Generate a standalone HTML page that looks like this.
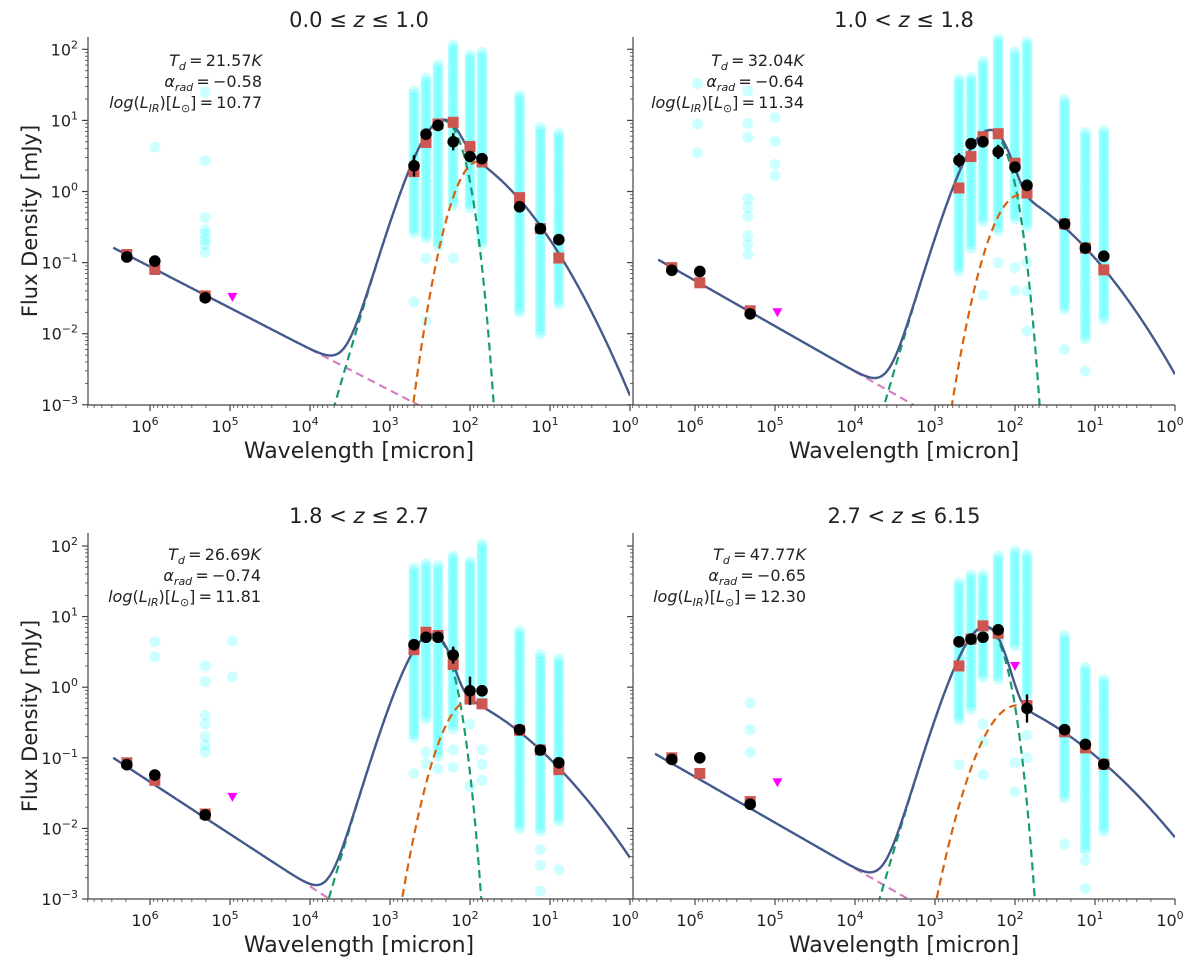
<!DOCTYPE html>
<html><head><meta charset="utf-8">
<style>
html,body{margin:0;padding:0;background:#fff;}
svg{display:block;font-family:"DejaVu Sans","Liberation Sans",sans-serif;}
</style></head>
<body>
<svg id="fig" width="1200" height="966" viewBox="0 0 1200 966" xmlns="http://www.w3.org/2000/svg"></svg>
<script>
// ---- shared wavelengths (log10 micron) ----
const radioLam = [6.29, 5.94, 5.31];
const ulLam = 4.97;
const firLam = [2.70, 2.55, 2.40, 2.21, 2.00, 1.85, 1.38, 1.12, 0.89];

// ---- panel 1: 0.0<=z<=1.0 ----
const p1RadioBlack = [0.12, 0.105, 0.032];
const p1RadioRed = [0.13, 0.08, 0.034];
const p1UL = [[4.97, 0.033]];
const p1Black = [2.3, 6.4, 8.5, 5.0, 3.1, 2.9, 0.61, 0.30, 0.21];
const p1BlackErr = [0.15, 0.08, 0.04, 0.12, 0.06, 0.04, 0.06, 0.03, 0.06];
const p1Red = [1.9, 4.9, 8.9, 9.4, 4.3, 2.6, 0.82, 0.30, 0.116];
const p1CloudLo = [0.26, 0.22, 0.17, 0.65, 0.59, 0.18, 0.020, 0.010, 0.026];
const p1CloudHi = [28, 42, 63, 120, 93, 93, 23, 8.7, 6.9];
const p1Outliers = [[2.70, 0.028], [2.55, 0.115], [2.55, 0.015], [2.21, 0.115], [5.94, 4.2], [5.31, 25], [5.31, 2.7], [5.31, 0.43], [5.31, 0.29], [5.31, 0.25], [5.31, 0.21], [5.31, 0.18], [5.31, 0.14]];
const p1Model = [6.46, 0.162, -0.58, 2.34, 10.0, 1.90, 2.63, 5.2, 0.758, 0.515];

// ---- panel 2: 1.0<z<=1.8 ----
const p2RadioBlack = [0.078, 0.075, 0.019];
const p2RadioRed = [0.085, 0.052, 0.021];
const p2UL = [[4.97, 0.020]];
const p2Black = [2.75, 4.7, 5.0, 3.6, 2.2, 1.22, 0.35, 0.16, 0.123];
const p2BlackErr = [0.1, 0.04, 0.04, 0.1, 0.04, 0.08, 0.03, 0.03, 0.03];
const p2Red = [1.12, 3.1, 5.9, 6.5, 2.5, 0.95, 0.35, 0.16, 0.079];
const p2CloudLo = [0.076, 0.16, 0.38, 0.28, 0.41, 0.32, 0.022, 0.0085, 0.016];
const p2CloudHi = [39, 42, 68, 141, 98, 141, 20, 7.2, 7.2];
const p2Outliers = [[2.40, 0.035], [2.21, 0.1], [2.0, 0.085], [2.0, 0.04], [1.85, 0.1], [1.85, 0.04], [1.85, 0.011], [1.38, 0.006], [1.12, 0.003], [5.97, 33], [5.97, 8.9], [5.97, 3.5], [5.34, 26], [5.34, 9.1], [5.34, 5.8], [5.34, 0.8], [5.34, 0.6], [5.34, 0.45], [5.34, 0.24], [5.34, 0.18], [5.34, 0.13], [5.0, 11], [5.0, 5.1], [5.0, 2.4], [5.0, 1.66]];
const p2Model = [6.46, 0.11, -0.64, 2.32, 7.1, 1.94, 0.89, 4.1, 0.613, 0.354];

// ---- panel 3: 1.8<z<=2.7 ----
const p3RadioBlack = [0.08, 0.057, 0.0155];
const p3RadioRed = [0.085, 0.048, 0.016];
const p3UL = [[4.97, 0.028]];
const p3Black = [4.0, 5.1, 5.1, 2.85, 0.89, 0.89, 0.25, 0.129, 0.085];
const p3BlackErr = [0.04, 0.04, 0.04, 0.12, 0.2, 0.08, 0.03, 0.03, 0.04];
const p3Red = [3.4, 6.0, 5.4, 2.1, 0.68, 0.58, 0.245, 0.129, 0.068];
const p3CloudLo = [0.195, 0.355, 0.105, 0.257, 0.76, 0.76, 0.010, 0.0091, 0.0126];
const p3CloudHi = [54, 63, 54, 78, 63, 115, 6.9, 3.1, 2.75];
const p3Outliers = [[2.70, 0.06], [2.55, 0.12], [2.55, 0.083], [2.40, 0.07], [2.21, 0.13], [2.21, 0.074], [2.0, 0.3], [2.0, 0.039], [1.85, 0.13], [1.85, 0.08], [1.85, 0.048], [1.12, 0.0013], [1.12, 0.003], [1.12, 0.005], [0.89, 0.0026], [5.94, 4.4], [5.94, 2.7], [5.31, 2.0], [5.31, 1.2], [5.31, 0.4], [5.31, 0.3], [5.31, 0.2], [5.31, 0.15], [5.31, 0.12], [4.97, 4.5], [4.97, 1.4]];
const p3Model = [6.46, 0.10, -0.74, 2.48, 5.6, 2.00, 0.65, 3.9, 0.545, 0.285];

// ---- panel 4: 2.7<z<=6.15 ----
const p4RadioBlack = [0.095, 0.10, 0.022];
const p4RadioRed = [0.10, 0.06, 0.024];
const p4UL = [[4.97, 0.045], [2.00, 2.0]];
const p4Black = [4.4, 4.8, 5.1, 6.5, null, 0.50, 0.25, 0.155, 0.081];
const p4BlackErr = [0.06, 0.06, 0.04, 0.05, 0, 0.2, 0.04, 0.04, 0.03];
const p4Red = [2.0, 4.8, 7.4, 5.8, null, 0.55, 0.234, 0.138, 0.081];
const p4CloudLo = [0.34, 0.49, 1.38, 1.29, 3.8, 0.76, 0.027, 0.0048, 0.0091];
const p4CloudHi = [33, 39, 39, 74, 87, 83, 5.5, 2.1, 1.29];
const p4Outliers = [[2.70, 0.08], [2.40, 0.3], [2.40, 0.17], [2.40, 0.058], [2.0, 0.085], [2.0, 0.033], [1.85, 0.21], [1.85, 0.1], [1.38, 0.006], [1.12, 0.0035], [1.12, 0.0014], [5.31, 0.6], [5.31, 0.25], [5.31, 0.12]];
const p4Model = [6.50, 0.114, -0.65, 2.38, 7.1, 1.98, 0.55, 2.74, 0.508, 0.22];

const titles = ["0.0 \u2264 ", "1.0 < ", "1.8 < ", "2.7 < "];
const titlesEnd = [" \u2264 1.0", " \u2264 1.8", " \u2264 2.7", " \u2264 6.15"];
const tdVals = ["21.57", "32.04", "26.69", "47.77"];
const alphaVals = ["0.58", "0.64", "0.74", "0.65"];
const lirVals = ["10.77", "11.34", "11.81", "12.30"];
const yTickExps = [2, 1, 0, -1, -2, -3];
const xTickExps = [6, 5, 4, 3, 2, 1, 0];

const NS = "http://www.w3.org/2000/svg";
const svg = document.getElementById("fig");
function mk(tag, attrs, parent) {
  const e = document.createElementNS(NS, tag);
  for (const k in attrs) e.setAttribute(k, attrs[k]);
  (parent || svg).appendChild(e);
  return e;
}

const panels = [
  {rb: p1RadioBlack, rr: p1RadioRed, ul: p1UL, bl: p1Black, be: p1BlackErr, rd: p1Red, lo: p1CloudLo, hi: p1CloudHi, out: p1Outliers, m: p1Model, xR: 630, y2: 49.3, dec: 71.1, yBot: 405, yTop: 37, ylab: true, txX: 262, txY: 60},
  {rb: p2RadioBlack, rr: p2RadioRed, ul: p2UL, bl: p2Black, be: p2BlackErr, rd: p2Red, lo: p2CloudLo, hi: p2CloudHi, out: p2Outliers, m: p2Model, xR: 1175, y2: 49.3, dec: 71.1, yBot: 405, yTop: 37, ylab: false, txX: 804, txY: 60},
  {rb: p3RadioBlack, rr: p3RadioRed, ul: p3UL, bl: p3Black, be: p3BlackErr, rd: p3Red, lo: p3CloudLo, hi: p3CloudHi, out: p3Outliers, m: p3Model, xR: 630, y2: 546, dec: 70.6, yBot: 899, yTop: 533, ylab: true, txX: 261, txY: 554},
  {rb: p4RadioBlack, rr: p4RadioRed, ul: p4UL, bl: p4Black, be: p4BlackErr, rd: p4Red, lo: p4CloudLo, hi: p4CloudHi, out: p4Outliers, m: p4Model, xR: 1175, y2: 546, dec: 70.6, yBot: 899, yTop: 533, ylab: false, txX: 806, txY: 554}
];

const XPK = 4.965; // greybody beta=2 peak
function lnf(x) { return 5 * Math.log(x) - Math.log(Math.expm1(x)); }

panels.forEach((P, pi) => {
  const xL = P.xR - 542;
  const X = l => P.xR - 80 * l;
  const Y = v => P.y2 + (2 - Math.log10(v)) * P.dec;
  const YL = lg => P.y2 + (2 - lg) * P.dec;
  const g = mk("g", {});
  
  
  const cid = "clip" + pi;
  const cp = mk("clipPath", {id: cid}, g);
  mk("rect", {x: xL, y: P.yTop - 8, width: 542, height: P.yBot - P.yTop + 8}, cp);
  const plot = mk("g", {"clip-path": "url(#" + cid + ")"}, g);
  
  

  // cyan clouds
  const cloud = mk("g", {fill: "#00ffff", "fill-opacity": 0.2}, plot);
  
  
  firLam.forEach((l, i) => {
    const a = Math.log10(P.lo[i]), b = Math.log10(P.hi[i]);
    for (let v = a; v <= b + 1e-9; v += 0.05) {
      const c = mk("circle", {cx: X(l), cy: YL(v), r: 5.5}, cloud);
      
      
    }
  });
  P.out.forEach(o => {
    const c = mk("circle", {cx: X(o[0]), cy: Y(o[1]), r: 5.5}, cloud);
    
    
  });

  // model
  const [l0, s0, alpha, gl, gS, wl, wS, aL, bb, cc] = P.m;
  const R = l => Math.log10(s0) - alpha * (l - l0);
  const G = l => { const x = XPK * Math.pow(10, gl - l); return Math.log10(gS) + (lnf(x) - lnf(XPK)) / Math.LN10; };
  const W = l => { if (l >= wl) return Math.log10(wS) - aL * (l - wl) * (l - wl); const d = wl - l; return Math.log10(wS) - bb * d - cc * d * d; };
  const T = l => Math.log10(Math.pow(10, R(l)) + Math.pow(10, G(l)) + Math.pow(10, W(l)));
  function pathOf(fn, a, b) {
    let d = "";
    for (let l = a; l >= b - 1e-9; l -= 0.01) {
      let v = fn(l); if (v < -3.6) v = -3.6;
      d += (d ? "L" : "M") + X(l).toFixed(1) + "," + YL(v).toFixed(1);
    }
    return d;
  }
  const pink = mk("path", {d: pathOf(R, 4.0, 2.0), fill: "none", stroke: "#d57fbf", "stroke-width": 2.2, "stroke-dasharray": "8,5"}, plot);
  
  
  const green = mk("path", {d: pathOf(G, 4.5, 1.2), fill: "none", stroke: "#179c72", "stroke-width": 2.2, "stroke-dasharray": "8,5"}, plot);
  
  
  const orange = mk("path", {d: pathOf(W, 4.0, wl), fill: "none", stroke: "#d8630e", "stroke-width": 2.2, "stroke-dasharray": "8,5"}, plot);
  
  
  const blue = mk("path", {d: pathOf(T, l0, 0), fill: "none", stroke: "#455a8c", "stroke-width": 2.4}, plot);
  
  

  // red model points
  const reds = mk("g", {fill: "#cd5750"}, g);
  
  
  const addSq = (l, v) => {
    if (v == null) return;
    const r = mk("rect", {x: X(l) - 5.5, y: Y(v) - 5.5, width: 11, height: 11}, reds);
    
    
  };
  radioLam.forEach((l, i) => addSq(l, P.rr[i]));
  firLam.forEach((l, i) => addSq(l, P.rd[i]));

  // black stacked points
  const blks = mk("g", {fill: "#000"}, g);
  
  
  const addPt = (l, v, e) => {
    if (v == null) return;
    if (e > 0) {
      const ln = mk("line", {x1: X(l), x2: X(l), y1: YL(Math.log10(v) + e), y2: YL(Math.log10(v) - e), stroke: "#000", "stroke-width": 2.4}, blks);
      
      
    }
    const c = mk("circle", {cx: X(l), cy: Y(v), r: 5.8}, blks);
    
    
  };
  radioLam.forEach((l, i) => addPt(l, P.rb[i], pi === 3 && i === 1 ? 0.06 : 0));
  firLam.forEach((l, i) => addPt(l, P.bl[i], P.be[i]));

  // upper limits
  P.ul.forEach(u => {
    const x = X(u[0]), y = Y(u[1]);
    const t = mk("polygon", {points: (x - 5) + "," + (y - 4) + " " + (x + 5) + "," + (y - 4) + " " + x + "," + (y + 5), fill: "#ff00ff"}, g);
    
    
  });

  // axes
  const ax = mk("g", {stroke: "#444", "stroke-width": 1.2, fill: "none"}, g);
  
  
  mk("line", {x1: xL, x2: xL, y1: P.yTop, y2: P.yBot}, ax);
  mk("line", {x1: xL, x2: P.xR, y1: P.yBot, y2: P.yBot}, ax);
  for (let d = -3; d <= 2; d++) {
    mk("line", {x1: xL - 6, x2: xL, y1: YL(d), y2: YL(d)}, ax);
    for (let k = 2; k <= 9; k++) {
      const lg = d + Math.log10(k);
      if (lg > 2.17) break;
      mk("line", {x1: xL - 3, x2: xL, y1: YL(lg), y2: YL(lg), "stroke-width": 0.8}, ax);
    }
  }
  for (let d = 0; d <= 6; d++) {
    mk("line", {x1: X(d), x2: X(d), y1: P.yBot, y2: P.yBot + 6}, ax);
    for (let k = 2; k <= 9; k++) {
      const l = d + Math.log10(k);
      if (l > 6.78) break;
      mk("line", {x1: X(l), x2: X(l), y1: P.yBot, y2: P.yBot + 3, "stroke-width": 0.8}, ax);
    }
  }
  // tick labels
  const lab = mk("g", {fill: "#222", "font-size": 16}, g);
  
  
  xTickExps.forEach(e => {
    const t = mk("text", {x: X(e) - 5, y: P.yBot + 27, "text-anchor": "middle"}, lab);
    
    
    t.appendChild(document.createTextNode("10"));
    const s = mk("tspan", {"font-size": 11, dy: -7}, t);
    s.textContent = String(e);
  });
  if (P.ylab) {
    yTickExps.forEach(e => {
      const t = mk("text", {x: xL - 10, y: YL(e) + 6, "text-anchor": "end"}, lab);
      
      
      t.appendChild(document.createTextNode("10"));
      const s = mk("tspan", {"font-size": 11, dy: -7}, t);
      s.textContent = e < 0 ? "\u2212" + (-e) : String(e);
    });
    const yl = mk("text", {x: 0, y: 0, "font-size": 21, fill: "#222", "text-anchor": "middle", transform: "translate(37," + ((P.yTop + P.yBot) / 2) + ") rotate(-90)"}, g);
    
    
    yl.textContent = "Flux Density [mJy]";
  }
  const xl = mk("text", {x: xL + 271, y: P.yBot + 53, "font-size": 22, fill: "#222", "text-anchor": "middle"}, g);
  
  
  xl.textContent = "Wavelength [micron]";

  // title
  const tt = mk("text", {x: xL + 271, y: P.yTop - 10, "font-size": 21, fill: "#222", "text-anchor": "middle"}, g);
  
  
  tt.appendChild(document.createTextNode(titles[pi]));
  const zi = mk("tspan", {"font-style": "italic"}, tt); zi.textContent = "z";
  tt.appendChild(document.createTextNode(titlesEnd[pi]));

  // annotation
  const an = mk("g", {"font-size": 16, fill: "#222", "text-anchor": "end"}, g);
  
  
  const t1 = mk("text", {x: P.txX, y: P.txY + 6}, an);
  
  
  let s = mk("tspan", {"font-style": "italic"}, t1); s.textContent = "T";
  s = mk("tspan", {"font-style": "italic", "font-size": 11, dy: 4}, t1); s.textContent = "d";
  s = mk("tspan", {dy: -4}, t1); s.textContent = "\u2009=\u2009" + tdVals[pi];
  s = mk("tspan", {"font-style": "italic"}, t1); s.textContent = "K";
  const t2 = mk("text", {x: P.txX, y: P.txY + 27}, an);
  
  
  s = mk("tspan", {"font-style": "italic"}, t2); s.textContent = "\u03b1";
  s = mk("tspan", {"font-style": "italic", "font-size": 11, dy: 4}, t2); s.textContent = "rad";
  s = mk("tspan", {dy: -4}, t2); s.textContent = "\u2009=\u2009\u2212" + alphaVals[pi];
  const t3 = mk("text", {x: P.txX, y: P.txY + 48}, an);
  
  
  s = mk("tspan", {"font-style": "italic"}, t3); s.textContent = "log";
  s = mk("tspan", {}, t3); s.textContent = "(";
  s = mk("tspan", {"font-style": "italic"}, t3); s.textContent = "L";
  s = mk("tspan", {"font-style": "italic", "font-size": 11, dy: 4}, t3); s.textContent = "IR";
  s = mk("tspan", {dy: -4}, t3); s.textContent = ")[";
  s = mk("tspan", {"font-style": "italic"}, t3); s.textContent = "L";
  s = mk("tspan", {"font-size": 11, dy: 4}, t3); s.textContent = "\u2299";
  s = mk("tspan", {dy: -4}, t3); s.textContent = "]\u2009=\u2009" + lirVals[pi];
});
</script>
</body></html>
